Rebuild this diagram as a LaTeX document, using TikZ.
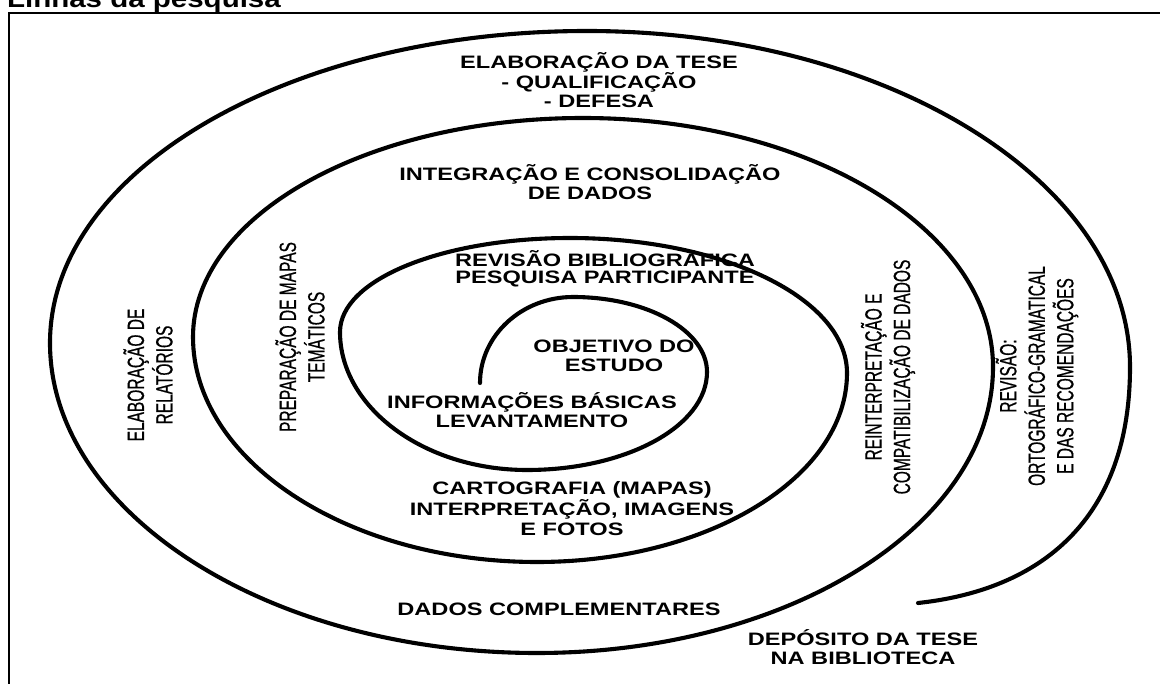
\documentclass[tikz,border=0pt]{standalone}
\usepackage{fontspec}
\newfontfamily\hfont[FakeStretch=1.31]{Liberation Sans}
\newfontfamily\tfont[FakeStretch=1.18]{Liberation Sans}
\newfontfamily\vfont[FakeStretch=0.66,FakeBold=0.6]{Liberation Sans}
\begin{document}
\begin{tikzpicture}[x=1pt,y=-1pt,
  spiral/.style={line width=4.1pt, line cap=round, line join=round},
  frameline/.style={line width=2.8pt},
  hlabel/.style={align=center, inner sep=0pt, font=\hfont\bfseries\fontsize{18}{19}\selectfont},
  vlabel/.style={align=center, inner sep=0pt, rotate=90, font=\vfont\fontsize{23.5}{28.5}\selectfont}]
\useasboundingbox (0,0) rectangle (1160,684);
% frame
\coordinate (fbl) at (9,690);
\coordinate (ftl) at (9,13);
\coordinate (ftr) at (1166,13);
\draw[frameline] (fbl) -- (ftl) -- (ftr);
% cut title
\node[anchor=base east, inner sep=0pt, font=\tfont\bfseries\fontsize{25}{27}\selectfont] (title) at (281,8) {Linhas da pesquisa};
% spiral
\draw[spiral] (480,383)
 .. controls (480,335.5) and (521.7,297) .. (573,297)
 .. controls (647,297) and (707,330.6) .. (707,372)
 .. controls (707,426.1) and (626.4,470) .. (527,470)
 .. controls (423.8,470) and (340,407.3) .. (340,332)
 .. controls (340,279.2) and (443,238) .. (570,238)
 .. controls (722.9,238) and (847,298.5) .. (847,373)
 .. controls (847,477.3) and (708.1,562) .. (537,562)
 .. controls (347.1,562) and (193,460.3) .. (193,337)
 .. controls (193,215.2) and (367.7,118) .. (583,118)
 .. controls (809.3,118) and (993,229.6) .. (993,367)
 .. controls (993,524.9) and (788.7,653) .. (537,653)
 .. controls (268.2,653) and (50,512.8) .. (50,343)
 .. controls (50,169.4) and (290.6,31) .. (587,31)
 .. controls (886.7,31) and (1130,181.5) .. (1130,367)
 .. controls (1130,520) and (1040,590) .. (918,603);
% horizontal labels
\node[hlabel] (tese) at (599,80) {ELABORAÇÃO DA TESE\\- QUALIFICAÇÃO\\- DEFESA};
\node[hlabel] (integ) at (590,182) {INTEGRAÇÃO E CONSOLIDAÇÃO\\DE DADOS};
\node[hlabel, font=\hfont\bfseries\fontsize{18}{16.5}\selectfont] (revb) at (605,269) {REVISÃO BIBLIOGRÁFICA\\PESQUISA PARTICIPANTE};
\node[hlabel] (obj) at (614,356) {OBJETIVO DO\\ESTUDO};
\node[hlabel] (info) at (532,410) {INFORMAÇÕES BÁSICAS\\LEVANTAMENTO};
\node[hlabel, font=\hfont\bfseries\fontsize{18}{20.5}\selectfont] (carto) at (572,509) {CARTOGRAFIA (MAPAS)\\INTERPRETAÇÃO, IMAGENS\\E FOTOS};
\node[hlabel] (dados) at (559,609) {DADOS COMPLEMENTARES};
\node[hlabel] (dep) at (863,647) {DEPÓSITO DA TESE\\NA BIBLIOTECA};
% vertical labels
\node[vlabel] (relat) at (148,375) {ELABORAÇÃO DE\\RELATÓRIOS};
\node[vlabel] (mapas) at (300,337) {PREPARAÇÃO DE MAPAS\\TEMÁTICOS};
\node[vlabel] (reint) at (888,377) {REINTERPRETAÇÃO E\\COMPATIBILIZAÇÃO DE DADOS};
\node[vlabel] (revis) at (1037,376) {REVISÃO:\\ORTOGRÁFICO-GRAMATICAL\\E DAS RECOMENDAÇÕES};
\end{tikzpicture}
\end{document}
